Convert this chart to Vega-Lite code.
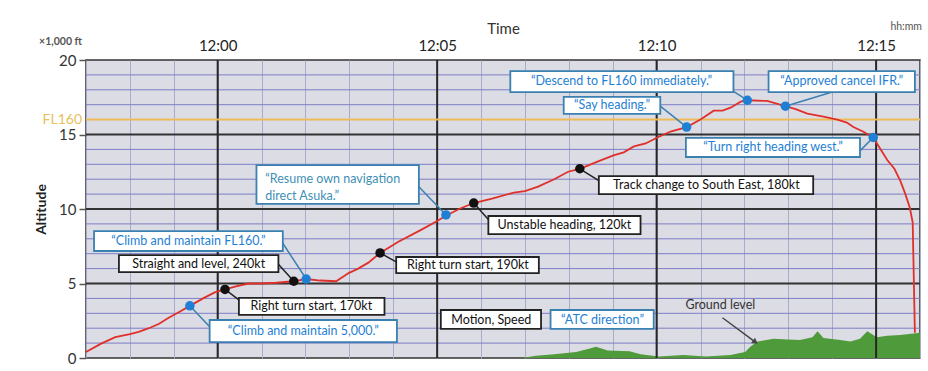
{
  "$schema": "https://vega.github.io/schema/vega-lite/v6.json",
  "autosize": {"type": "none"},
  "width": 834,
  "height": 298,
  "padding": {"left": 86, "top": 60, "right": 8, "bottom": 13},
  "background": "white",
  "config": {
    "font": "Lato",
    "view": {"stroke": "#333", "strokeWidth": 1.5, "fill": "#dcdce5"}
  },
  "datasets": {
    "path": [
      {"time": "2024-01-01T11:57:00", "alt": 0.4},
      {"time": "2024-01-01T11:57:20", "alt": 0.95},
      {"time": "2024-01-01T11:57:40", "alt": 1.4},
      {"time": "2024-01-01T11:58:00", "alt": 1.6},
      {"time": "2024-01-01T11:58:12", "alt": 1.75},
      {"time": "2024-01-01T11:58:26", "alt": 2.0},
      {"time": "2024-01-01T11:58:40", "alt": 2.3},
      {"time": "2024-01-01T11:58:53", "alt": 2.7},
      {"time": "2024-01-01T11:59:08", "alt": 3.1},
      {"time": "2024-01-01T11:59:22", "alt": 3.5},
      {"time": "2024-01-01T11:59:40", "alt": 4.0},
      {"time": "2024-01-01T11:59:56", "alt": 4.4},
      {"time": "2024-01-01T12:00:10", "alt": 4.6},
      {"time": "2024-01-01T12:00:25", "alt": 4.8},
      {"time": "2024-01-01T12:00:42", "alt": 5.0},
      {"time": "2024-01-01T12:01:00", "alt": 5.0},
      {"time": "2024-01-01T12:01:20", "alt": 5.05},
      {"time": "2024-01-01T12:01:44", "alt": 5.15},
      {"time": "2024-01-01T12:02:01", "alt": 5.3},
      {"time": "2024-01-01T12:02:20", "alt": 5.2},
      {"time": "2024-01-01T12:02:42", "alt": 5.15},
      {"time": "2024-01-01T12:02:59", "alt": 5.7},
      {"time": "2024-01-01T12:03:12", "alt": 6.0},
      {"time": "2024-01-01T12:03:26", "alt": 6.4},
      {"time": "2024-01-01T12:03:42", "alt": 7.05},
      {"time": "2024-01-01T12:04:07", "alt": 7.8},
      {"time": "2024-01-01T12:04:38", "alt": 8.6},
      {"time": "2024-01-01T12:05:00", "alt": 9.2},
      {"time": "2024-01-01T12:05:12", "alt": 9.55},
      {"time": "2024-01-01T12:05:30", "alt": 10.0},
      {"time": "2024-01-01T12:05:50", "alt": 10.4},
      {"time": "2024-01-01T12:06:15", "alt": 10.7},
      {"time": "2024-01-01T12:06:45", "alt": 11.1},
      {"time": "2024-01-01T12:07:00", "alt": 11.2},
      {"time": "2024-01-01T12:07:18", "alt": 11.5},
      {"time": "2024-01-01T12:07:40", "alt": 12.0},
      {"time": "2024-01-01T12:07:59", "alt": 12.5},
      {"time": "2024-01-01T12:08:15", "alt": 12.7},
      {"time": "2024-01-01T12:08:40", "alt": 13.2},
      {"time": "2024-01-01T12:09:01", "alt": 13.6},
      {"time": "2024-01-01T12:09:15", "alt": 13.8},
      {"time": "2024-01-01T12:09:29", "alt": 14.2},
      {"time": "2024-01-01T12:09:45", "alt": 14.4},
      {"time": "2024-01-01T12:10:01", "alt": 14.8},
      {"time": "2024-01-01T12:10:19", "alt": 15.2},
      {"time": "2024-01-01T12:10:41", "alt": 15.5},
      {"time": "2024-01-01T12:11:00", "alt": 16.0},
      {"time": "2024-01-01T12:11:18", "alt": 16.6},
      {"time": "2024-01-01T12:11:30", "alt": 16.6},
      {"time": "2024-01-01T12:11:41", "alt": 16.8},
      {"time": "2024-01-01T12:11:55", "alt": 17.2},
      {"time": "2024-01-01T12:12:04", "alt": 17.3},
      {"time": "2024-01-01T12:12:31", "alt": 17.25},
      {"time": "2024-01-01T12:12:56", "alt": 16.9},
      {"time": "2024-01-01T12:13:10", "alt": 16.7},
      {"time": "2024-01-01T12:13:26", "alt": 16.4},
      {"time": "2024-01-01T12:13:48", "alt": 16.2},
      {"time": "2024-01-01T12:14:07", "alt": 16.0},
      {"time": "2024-01-01T12:14:20", "alt": 15.8},
      {"time": "2024-01-01T12:14:29", "alt": 15.5},
      {"time": "2024-01-01T12:14:42", "alt": 15.2},
      {"time": "2024-01-01T12:14:56", "alt": 14.8},
      {"time": "2024-01-01T12:15:05", "alt": 14.1},
      {"time": "2024-01-01T12:15:15", "alt": 13.3},
      {"time": "2024-01-01T12:15:25", "alt": 12.7},
      {"time": "2024-01-01T12:15:33", "alt": 11.9},
      {"time": "2024-01-01T12:15:40", "alt": 11.0},
      {"time": "2024-01-01T12:15:46", "alt": 10.1},
      {"time": "2024-01-01T12:15:50", "alt": 9.1},
      {"time": "2024-01-01T12:15:53", "alt": 1.7}
    ],
    "ground": [
      {"time": "2024-01-01T12:06:55", "alt": 0},
      {"time": "2024-01-01T12:07:15", "alt": 0.15},
      {"time": "2024-01-01T12:07:40", "alt": 0.25},
      {"time": "2024-01-01T12:08:10", "alt": 0.4},
      {"time": "2024-01-01T12:08:30", "alt": 0.65},
      {"time": "2024-01-01T12:08:37", "alt": 0.75},
      {"time": "2024-01-01T12:08:53", "alt": 0.5},
      {"time": "2024-01-01T12:09:23", "alt": 0.45},
      {"time": "2024-01-01T12:09:38", "alt": 0.25},
      {"time": "2024-01-01T12:10:03", "alt": 0.1},
      {"time": "2024-01-01T12:10:37", "alt": 0.2},
      {"time": "2024-01-01T12:11:07", "alt": 0.1},
      {"time": "2024-01-01T12:11:41", "alt": 0.2},
      {"time": "2024-01-01T12:12:01", "alt": 0.4},
      {"time": "2024-01-01T12:12:08", "alt": 0.75},
      {"time": "2024-01-01T12:12:18", "alt": 1.1},
      {"time": "2024-01-01T12:12:40", "alt": 1.3},
      {"time": "2024-01-01T12:12:59", "alt": 1.25},
      {"time": "2024-01-01T12:13:16", "alt": 1.2},
      {"time": "2024-01-01T12:13:33", "alt": 1.4},
      {"time": "2024-01-01T12:13:40", "alt": 1.8},
      {"time": "2024-01-01T12:13:48", "alt": 1.35},
      {"time": "2024-01-01T12:14:11", "alt": 1.2},
      {"time": "2024-01-01T12:14:25", "alt": 1.1},
      {"time": "2024-01-01T12:14:38", "alt": 1.3},
      {"time": "2024-01-01T12:14:48", "alt": 1.8},
      {"time": "2024-01-01T12:15:01", "alt": 1.4},
      {"time": "2024-01-01T12:15:15", "alt": 1.5},
      {"time": "2024-01-01T12:15:33", "alt": 1.55},
      {"time": "2024-01-01T12:16:00", "alt": 1.7}
    ],
    "majorTimes": [
      {"time": "2024-01-01T12:00:00"},
      {"time": "2024-01-01T12:05:00"},
      {"time": "2024-01-01T12:10:00"},
      {"time": "2024-01-01T12:15:00"}
    ],
    "majorAlts": [
      {"alt": 5},
      {"alt": 10},
      {"alt": 15}
    ],
    "minorAlts": [
      {"alt": 1}, {"alt": 2}, {"alt": 3}, {"alt": 4},
      {"alt": 6}, {"alt": 7}, {"alt": 8}, {"alt": 9},
      {"alt": 11}, {"alt": 12}, {"alt": 13}, {"alt": 14},
      {"alt": 16}, {"alt": 17}, {"alt": 18}, {"alt": 19}
    ],
    "notes": [
      {"note": "“Climb and maintain 5,000.”", "kind": "atc", "multi": false, "t": "2024-01-01T11:59:22", "alt": 3.5, "x1": "2024-01-01T11:59:49", "x2": "2024-01-01T12:04:05", "y1": 1.07, "y2": 2.55, "tx": "2024-01-01T12:01:57", "ty": 1.81, "cx": "2024-01-01T11:59:49", "cy": 2.1},
      {"note": "Right turn start, 170kt", "kind": "event", "multi": false, "t": "2024-01-01T12:00:10", "alt": 4.6, "x1": "2024-01-01T12:00:29", "x2": "2024-01-01T12:03:48", "y1": 2.89, "y2": 4.03, "tx": "2024-01-01T12:02:08", "ty": 3.46, "cx": "2024-01-01T12:00:29", "cy": 3.9},
      {"note": "Straight and level, 240kt", "kind": "event", "multi": false, "t": "2024-01-01T12:01:44", "alt": 5.15, "x1": "2024-01-01T11:57:45", "x2": "2024-01-01T12:01:23", "y1": 5.77, "y2": 6.91, "tx": "2024-01-01T11:59:34", "ty": 6.34, "cx": "2024-01-01T12:01:23", "cy": 6.3},
      {"note": "“Climb and maintain FL160.”", "kind": "atc", "multi": false, "t": "2024-01-01T12:02:01", "alt": 5.3, "x1": "2024-01-01T11:57:11", "x2": "2024-01-01T12:01:29", "y1": 7.18, "y2": 8.52, "tx": "2024-01-01T11:59:20", "ty": 7.85, "cx": "2024-01-01T12:01:29", "cy": 7.7},
      {"note": "Right turn start, 190kt", "kind": "event", "multi": false, "t": "2024-01-01T12:03:42", "alt": 7.05, "x1": "2024-01-01T12:04:04", "x2": "2024-01-01T12:07:19", "y1": 5.7, "y2": 6.78, "tx": "2024-01-01T12:05:42", "ty": 6.24, "cx": "2024-01-01T12:04:04", "cy": 6.45},
      {"note": ["“Resume own navigation", "direct Asuka.”"], "kind": "atc", "multi": true, "t": "2024-01-01T12:05:12", "alt": 9.6, "x1": "2024-01-01T12:00:53", "x2": "2024-01-01T12:04:35", "y1": 10.34, "y2": 12.95, "tx": "2024-01-01T12:01:05", "ty": 12.0, "cx": "2024-01-01T12:04:35", "cy": 11.5},
      {"note": "Unstable heading, 120kt", "kind": "event", "multi": false, "t": "2024-01-01T12:05:50", "alt": 10.4, "x1": "2024-01-01T12:06:10", "x2": "2024-01-01T12:09:38", "y1": 8.32, "y2": 9.53, "tx": "2024-01-01T12:07:54", "ty": 8.93, "cx": "2024-01-01T12:06:10", "cy": 9.3},
      {"note": "Track change to South East, 180kt", "kind": "event", "multi": false, "t": "2024-01-01T12:08:15", "alt": 12.7, "x1": "2024-01-01T12:08:41", "x2": "2024-01-01T12:13:34", "y1": 11.0, "y2": 12.21, "tx": "2024-01-01T12:11:08", "ty": 11.6, "cx": "2024-01-01T12:08:41", "cy": 11.9},
      {"note": "“Say heading.”", "kind": "atc", "multi": false, "t": "2024-01-01T12:10:41", "alt": 15.5, "x1": "2024-01-01T12:07:53", "x2": "2024-01-01T12:10:05", "y1": 16.38, "y2": 17.52, "tx": "2024-01-01T12:08:59", "ty": 16.95, "cx": "2024-01-01T12:10:05", "cy": 16.9},
      {"note": "“Descend to FL160 immediately.”", "kind": "atc", "multi": false, "t": "2024-01-01T12:12:04", "alt": 17.3, "x1": "2024-01-01T12:06:40", "x2": "2024-01-01T12:11:45", "y1": 17.85, "y2": 19.26, "tx": "2024-01-01T12:09:12", "ty": 18.56, "cx": "2024-01-01T12:11:45", "cy": 17.9},
      {"note": "“Approved cancel IFR.”", "kind": "atc", "multi": false, "t": "2024-01-01T12:12:56", "alt": 16.9, "x1": "2024-01-01T12:12:33", "x2": "2024-01-01T12:15:53", "y1": 17.85, "y2": 19.26, "tx": "2024-01-01T12:14:13", "ty": 18.56, "cx": "2024-01-01T12:14:00", "cy": 17.85},
      {"note": "“Turn right heading west.”", "kind": "atc", "multi": false, "t": "2024-01-01T12:14:56", "alt": 14.8, "x1": "2024-01-01T12:10:40", "x2": "2024-01-01T12:14:38", "y1": 13.49, "y2": 14.77, "tx": "2024-01-01T12:12:39", "ty": 14.13, "cx": "2024-01-01T12:14:38", "cy": 13.9},
      {"note": "Motion, Speed", "kind": "event", "multi": false, "t": null, "alt": null, "x1": "2024-01-01T12:05:05", "x2": "2024-01-01T12:07:22", "y1": 1.95, "y2": 3.22, "tx": "2024-01-01T12:06:14", "ty": 2.58, "cx": null, "cy": null},
      {"note": "“ATC direction”", "kind": "atc", "multi": false, "t": null, "alt": null, "x1": "2024-01-01T12:07:35", "x2": "2024-01-01T12:09:56", "y1": 1.95, "y2": 3.22, "tx": "2024-01-01T12:08:46", "ty": 2.58, "cx": null, "cy": null}
    ],
    "groundNote": [
      {"label": "Ground level", "tx": "2024-01-01T12:11:27", "ty": 3.55, "ax1": "2024-01-01T12:11:30", "ay1": 2.7, "ax2": "2024-01-01T12:12:15", "ay2": 1.07}
    ]
  },
  "layer": [
    {
      "data": {"name": "path"},
      "mark": {"type": "line", "color": "#e3362d", "strokeWidth": 1.6, "opacity": 0},
      "encoding": {
        "x": {
          "field": "time", "type": "temporal", "title": "Time",
          "scale": {"domain": [{"year": 2024, "month": 1, "date": 1, "hours": 11, "minutes": 57}, {"year": 2024, "month": 1, "date": 1, "hours": 12, "minutes": 16}], "nice": false},
          "axis": {
            "orient": "top",
            "values": [
              {"year": 2024, "month": 1, "date": 1, "hours": 11, "minutes": 57},
              {"year": 2024, "month": 1, "date": 1, "hours": 11, "minutes": 58},
              {"year": 2024, "month": 1, "date": 1, "hours": 11, "minutes": 59},
              {"year": 2024, "month": 1, "date": 1, "hours": 12, "minutes": 0},
              {"year": 2024, "month": 1, "date": 1, "hours": 12, "minutes": 1},
              {"year": 2024, "month": 1, "date": 1, "hours": 12, "minutes": 2},
              {"year": 2024, "month": 1, "date": 1, "hours": 12, "minutes": 3},
              {"year": 2024, "month": 1, "date": 1, "hours": 12, "minutes": 4},
              {"year": 2024, "month": 1, "date": 1, "hours": 12, "minutes": 5},
              {"year": 2024, "month": 1, "date": 1, "hours": 12, "minutes": 6},
              {"year": 2024, "month": 1, "date": 1, "hours": 12, "minutes": 7},
              {"year": 2024, "month": 1, "date": 1, "hours": 12, "minutes": 8},
              {"year": 2024, "month": 1, "date": 1, "hours": 12, "minutes": 9},
              {"year": 2024, "month": 1, "date": 1, "hours": 12, "minutes": 10},
              {"year": 2024, "month": 1, "date": 1, "hours": 12, "minutes": 11},
              {"year": 2024, "month": 1, "date": 1, "hours": 12, "minutes": 12},
              {"year": 2024, "month": 1, "date": 1, "hours": 12, "minutes": 13},
              {"year": 2024, "month": 1, "date": 1, "hours": 12, "minutes": 14},
              {"year": 2024, "month": 1, "date": 1, "hours": 12, "minutes": 15},
              {"year": 2024, "month": 1, "date": 1, "hours": 12, "minutes": 16}
            ],
            "format": "%H:%M",
            "labelExpr": "(slice(datum.label, -1) == '0' || slice(datum.label, -1) == '5') && datum.label != '12:16' ? datum.label : ''",
            "labelOverlap": false,
            "labelFontSize": 15,
            "labelColor": "#222",
            "labelPadding": 7,
            "labelFlush": false,
            "ticks": false,
            "domain": false,
            "grid": true,
            "gridColor": "#a9acc8",
            "gridWidth": 1,
            "gridOpacity": 1,
            "titleFontSize": 15,
            "titleFontWeight": "normal",
            "titleColor": "#333",
            "titlePadding": 2
          }
        },
        "y": {
          "field": "alt", "type": "quantitative", "title": "Altitude",
          "scale": {"domain": [0, 20], "nice": false, "zero": true},
          "axis": {
            "values": [0, 5, 10, 15, 20],
            "labelOverlap": false,
            "labelFontSize": 15,
            "labelColor": "#333",
            "labelPadding": 3,
            "ticks": true,
            "tickSize": 7,
            "tickColor": "#555",
            "tickWidth": 1.5,
            "domain": false,
            "grid": false,
            "titleFontSize": 14,
            "titleFontWeight": "bold",
            "titleColor": "#222",
            "titlePadding": 10
          }
        }
      }
    },
    {
      "data": {"name": "minorAlts"},
      "mark": {"type": "rule", "color": "#7d7dc6", "strokeWidth": 1},
      "encoding": {
        "y": {"field": "alt", "type": "quantitative", "title": "Altitude"}
      }
    },
    {
      "data": {"name": "ground"},
      "mark": {"type": "area", "color": "#4f9a3a", "opacity": 1},
      "encoding": {
        "x": {"field": "time", "type": "temporal", "title": "Time"},
        "y": {"field": "alt", "type": "quantitative", "title": "Altitude"}
      }
    },
    {
      "data": {"name": "majorAlts"},
      "mark": {"type": "rule", "color": "#333333", "strokeWidth": 2},
      "encoding": {
        "y": {"field": "alt", "type": "quantitative", "title": "Altitude"}
      }
    },
    {
      "data": {"name": "majorTimes"},
      "mark": {"type": "rule", "color": "#262626", "strokeWidth": 2},
      "encoding": {
        "x": {"field": "time", "type": "temporal", "title": "Time"}
      }
    },
    {
      "data": {"values": [{"level": 16, "name": "FL160"}]},
      "mark": {"type": "rule", "color": "#f1bd52", "strokeWidth": 2, "opacity": 0.95},
      "encoding": {"y": {"field": "level", "type": "quantitative", "title": "Altitude"}}
    },
    {
      "data": {"values": [{"level": 16, "name": "FL160", "t0": "2024-01-01T11:57:00"}]},
      "mark": {"type": "text", "color": "#e9c05a", "fontSize": 14, "align": "right", "baseline": "middle", "dx": -4},
      "encoding": {
        "x": {"field": "t0", "type": "temporal", "title": "Time"},
        "y": {"field": "level", "type": "quantitative", "title": "Altitude"},
        "text": {"field": "name"}
      }
    },
    {
      "data": {"name": "path"},
      "mark": {"type": "line", "color": "#e0302a", "strokeWidth": 1.8},
      "encoding": {
        "x": {"field": "time", "type": "temporal", "title": "Time"},
        "y": {"field": "alt", "type": "quantitative", "title": "Altitude"}
      }
    },
    {
      "data": {"name": "notes"},
      "transform": [{"filter": "datum.t != null"}],
      "mark": {"type": "rule", "strokeWidth": 1.5},
      "encoding": {
        "x": {"field": "t", "type": "temporal", "title": "Time"},
        "y": {"field": "alt", "type": "quantitative", "title": "Altitude"},
        "x2": {"field": "cx"},
        "y2": {"field": "cy"},
        "color": {"field": "kind", "type": "nominal", "scale": {"domain": ["atc", "event"], "range": ["#3a80b0", "#222222"]}, "legend": null}
      }
    },
    {
      "data": {"name": "notes"},
      "transform": [{"filter": "datum.t != null"}],
      "mark": {"type": "point", "filled": true, "size": 90, "opacity": 1},
      "encoding": {
        "x": {"field": "t", "type": "temporal", "title": "Time"},
        "y": {"field": "alt", "type": "quantitative", "title": "Altitude"},
        "fill": {"field": "kind", "type": "nominal", "scale": {"domain": ["atc", "event"], "range": ["#1f7fd4", "#111111"]}, "legend": null}
      }
    },
    {
      "data": {"name": "notes"},
      "mark": {"type": "rect", "fill": "white", "strokeWidth": 1.8},
      "encoding": {
        "x": {"field": "x1", "type": "temporal", "title": "Time"},
        "x2": {"field": "x2"},
        "y": {"field": "y1", "type": "quantitative", "title": "Altitude"},
        "y2": {"field": "y2"},
        "stroke": {"field": "kind", "type": "nominal", "scale": {"domain": ["atc", "event"], "range": ["#3a80b0", "#222222"]}, "legend": null}
      }
    },
    {
      "data": {"name": "notes"},
      "transform": [{"filter": "!datum.multi"}],
      "mark": {"type": "text", "fontSize": 12.5, "align": "center", "baseline": "middle"},
      "encoding": {
        "x": {"field": "tx", "type": "temporal", "title": "Time"},
        "y": {"field": "ty", "type": "quantitative", "title": "Altitude"},
        "text": {"field": "note"},
        "fill": {"field": "kind", "type": "nominal", "scale": {"domain": ["atc", "event"], "range": ["#3f8fb5", "#111111"]}, "legend": null}
      }
    },
    {
      "data": {"name": "notes"},
      "transform": [{"filter": "datum.multi"}],
      "mark": {"type": "text", "fontSize": 12.5, "align": "left", "baseline": "middle", "lineHeight": 17, "color": "#3f8fb5"},
      "encoding": {
        "x": {"field": "tx", "type": "temporal", "title": "Time"},
        "y": {"field": "ty", "type": "quantitative", "title": "Altitude"},
        "text": {"field": "note"}
      }
    },
    {
      "data": {"name": "groundNote"},
      "mark": {"type": "text", "fontSize": 12.5, "color": "#333", "align": "center", "baseline": "middle"},
      "encoding": {
        "x": {"field": "tx", "type": "temporal", "title": "Time"},
        "y": {"field": "ty", "type": "quantitative", "title": "Altitude"},
        "text": {"field": "label"}
      }
    },
    {
      "data": {"name": "groundNote"},
      "mark": {"type": "rule", "color": "#444", "strokeWidth": 1.5},
      "encoding": {
        "x": {"field": "ax1", "type": "temporal", "title": "Time"},
        "y": {"field": "ay1", "type": "quantitative", "title": "Altitude"},
        "x2": {"field": "ax2"},
        "y2": {"field": "ay2"}
      }
    },
    {
      "data": {"name": "groundNote"},
      "mark": {"type": "point", "shape": "triangle-right", "filled": true, "size": 45, "color": "#444", "angle": 36, "opacity": 1},
      "encoding": {
        "x": {"field": "ax2", "type": "temporal", "title": "Time"},
        "y": {"field": "ay2", "type": "quantitative", "title": "Altitude"}
      }
    },
    {
      "data": {"values": [{"unit": "×1,000 ft", "t0": "2024-01-01T11:57:00", "a0": 20}]},
      "mark": {"type": "text", "fontSize": 10.5, "fontWeight": "bold", "color": "#555", "align": "right", "baseline": "middle", "dx": -4, "dy": -18},
      "encoding": {
        "x": {"field": "t0", "type": "temporal", "title": "Time"},
        "y": {"field": "a0", "type": "quantitative", "title": "Altitude"},
        "text": {"field": "unit"}
      }
    },
    {
      "data": {"values": [{"fmt": "hh:mm", "t0": "2024-01-01T12:16:00", "a0": 20}]},
      "mark": {"type": "text", "fontSize": 10.5, "color": "#555", "align": "right", "baseline": "middle", "dx": 2, "dy": -33},
      "encoding": {
        "x": {"field": "t0", "type": "temporal", "title": "Time"},
        "y": {"field": "a0", "type": "quantitative", "title": "Altitude"},
        "text": {"field": "fmt"}
      }
    }
  ]
}
